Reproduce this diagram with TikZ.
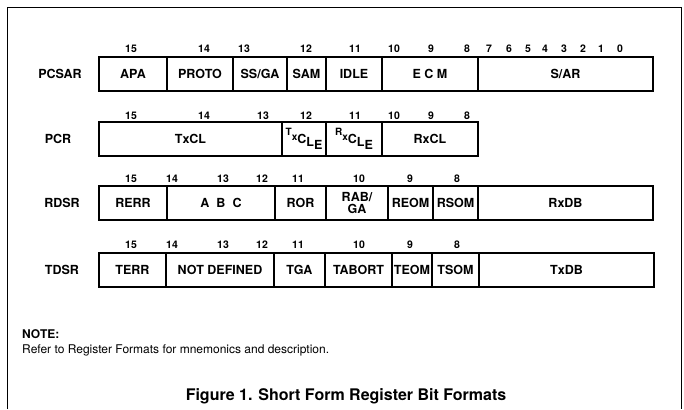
\documentclass[tikz,border=0pt]{standalone}
\usepackage{fontspec}
\setmainfont{TeX Gyre Heros}
\usetikzlibrary{positioning}
\tikzset{
  fld/.style  ={rectangle, draw=black, line width=1.4pt, fill=white, minimum height=34pt,
                inner sep=0pt, outer sep=0pt, align=center,
                font=\fontsize{12.5}{11.5}\selectfont\bfseries},
  fst/.style  ={fld, anchor=north west},
  reglbl/.style={font=\fontsize{12.5}{14}\selectfont\bfseries, inner sep=0pt},
  bitno/.style ={font=\fontsize{10.5}{11}\selectfont\bfseries, inner sep=0pt},
  frame/.style ={line width=0.8pt},
}
\newcommand{\clx}[2]{\raisebox{6.5pt}{\fontsize{10}{10}\selectfont #1}\raisebox{1pt}{\fontsize{10}{10}\selectfont x}\raisebox{-2pt}{C}\raisebox{-4.5pt}{L}\raisebox{-8pt}{E}}

\begin{document}
\begin{tikzpicture}[x=1pt, y=-1pt]
  \useasboundingbox (0,0) rectangle (684,409);
  \draw[frame] (7,409) -- (7,7) -- (681,7) -- (681,409);

  % PCSAR
  \node[reglbl] (pcsar) at (60,74) {PCSAR};
  \node[fst, minimum width=68pt] (apa) at (99,57) {APA};
  \node[fld, minimum width=66pt, right=0pt of apa] (proto) {PROTO};
  \node[fld, minimum width=54pt, right=0pt of proto] (ssga) {SS/GA};
  \node[fld, minimum width=39pt, right=0pt of ssga] (sam) {SAM};
  \node[fld, minimum width=56pt, right=0pt of sam] (idle) {IDLE};
  \node[fld, minimum width=96pt, right=0pt of idle] (ecm) {E C M};
  \node[fld, minimum width=175pt, right=0pt of ecm] (sar) {S/AR};
  \foreach \n/\x in {15/131,14/204,13/244,12/306,11/355,10/394,9/431,8/467,
                     7/489,6/509,5/528,4/545,3/564,2/583,1/601,0/620}
    \node[bitno] (pa\n) at (\x,49) {\n};

  % PCR
  \node[reglbl] (pcr) at (58,139) {PCR};
  \node[fst, minimum width=183pt] (txcl) at (99,122) {TxCL};
  \node[fld, minimum width=44pt, right=0pt of txcl] (txcle) {\clx{T}{x}};
  \node[fld, minimum width=56pt, right=0pt of txcle] (rxcle) {\clx{R}{x}};
  \node[fld, minimum width=96pt, right=0pt of rxcle] (rxcl) {RxCL};
  \foreach \n/\x in {15/131,14/204,13/263,12/306,11/355,10/394,9/431,8/467}
    \node[bitno] (pc\n) at (\x,116) {\n};

  % RDSR
  \node[reglbl] (rdsr) at (62,203) {RDSR};
  \node[fst, minimum width=68pt] (rerr) at (99,186) {RERR};
  \node[fld, minimum width=108pt, right=0pt of rerr] (abc) {A\hspace{7pt}B\hspace{7pt}C};
  \node[fld, minimum width=51pt, right=0pt of abc] (ror) {ROR};
  \node[fld, minimum width=62pt, right=0pt of ror] (rabga) {RAB/\\GA};
  \node[fld, minimum width=45pt, right=0pt of rabga] (reom) {REOM};
  \node[fld, minimum width=45pt, right=0pt of reom] (rsom) {RSOM};
  \node[fld, minimum width=175pt, right=0pt of rsom] (rxdb) {RxDB};
  \foreach \n/\x in {15/131,14/172,13/223,12/262,11/298,10/359,9/410,8/457}
    \node[bitno] (rd\n) at (\x,179) {\n};

  % TDSR
  \node[reglbl] (tdsr) at (62,270) {TDSR};
  \node[fst, minimum width=67pt] (terr) at (99,253) {TERR};
  \node[fld, minimum width=108pt, right=0pt of terr] (notdef) {NOT DEFINED};
  \node[fld, minimum width=51pt, right=0pt of notdef] (tga) {TGA};
  \node[fld, minimum width=67pt, right=0pt of tga] (tabort) {TABORT};
  \node[fld, minimum width=40pt, right=0pt of tabort] (teom) {TEOM};
  \node[fld, minimum width=47pt, right=0pt of teom] (tsom) {TSOM};
  \node[fld, minimum width=175pt, right=0pt of tsom] (txdb) {TxDB};
  \foreach \n/\x in {15/131,14/172,13/223,12/262,11/298,10/359,9/410,8/457}
    \node[bitno] (td\n) at (\x,245) {\n};

  % note and caption
  \node[anchor=west, inner sep=0pt, font=\fontsize{12}{13}\selectfont\bfseries] (note) at (22,334) {NOTE:};
  \node[anchor=west, inner sep=0pt, font=\fontsize{12}{13}\selectfont] (refer) at (22,350)
    {Refer to Register Formats for mnemonics and description.};
  \node[inner sep=0pt, font=\fontsize{16}{18}\selectfont\bfseries] (cap) at (346,396)
    {Figure 1. Short Form Register Bit Formats};
\end{tikzpicture}
\end{document}
